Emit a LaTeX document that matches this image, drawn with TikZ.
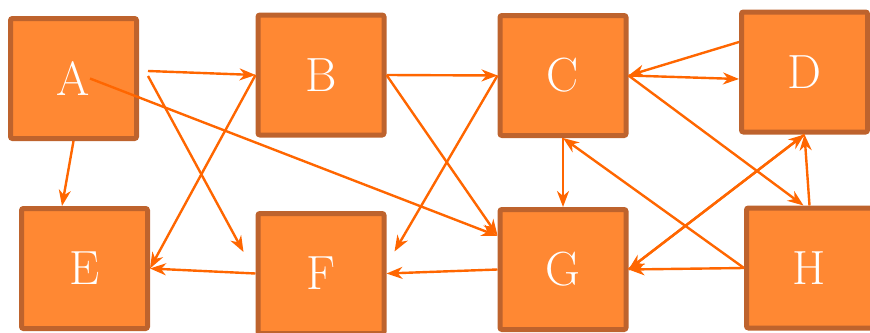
\documentclass[tikz,border=0pt]{standalone}
\usetikzlibrary{arrows.meta}
\definecolor{boxfill}{RGB}{255,136,51}
\definecolor{boxborder}{RGB}{190,99,45}
\definecolor{edgecol}{RGB}{255,102,0}
\begin{document}
\begin{tikzpicture}[x=1pt,y=-1pt,
  box/.style={draw=boxborder, fill=boxfill, line width=5pt, rounded corners=2pt,
    minimum width=126pt, minimum height=120pt, inner sep=0pt, text=white,
    font=\fontsize{48}{50}\selectfont},
  edge/.style={draw=edgecol, line width=2.4pt, -{Stealth[length=16pt,width=12pt,inset=5pt]}}]
\useasboundingbox (0,0) rectangle (870,332);
\node[box] (A) at (73.5,78.5) {A};
\node[box] (B) at (321,75) {B};
\node[box] (C) at (563,75.5) {C};
\node[box] (D) at (804.5,72) {D};
\node[box] (E) at (84.5,268.5) {E};
\node[box] (F) at (321,273.5) {F};
\node[box] (G) at (563,269.5) {G};
\node[box] (H) at (809.5,268) {H};
\draw[edge] ([shift={(9,-7.5)}]A.east) -- (B.west);
\draw[edge] ([shift={(9,-2.5)}]A.east) -- ([shift={(-12,-21.5)}]F.west);
\draw[edge] (A.south) -- ([shift={(-22.5,0)}]E.north);
\draw[edge] ([shift={(16.5,0)}]A.center) -- ([shift={(0,-33.5)}]G.west);
\draw[edge] (B.west) -- (E.east);
\draw[edge] (B.east) -- (C.west);
\draw[edge] (B.east) -- ([shift={(0,-34)}]G.west);
\draw[edge] (C.west) -- ([shift={(8,-22)}]F.east);
\draw[edge] (F.west) -- (E.east);
\draw[edge] (G.west) -- (F.east);
\draw[edge] (C.south) -- (G.north);
\draw[edge] (H.west) -- (C.south);
\draw[edge] (H.west) -- (G.east);
\draw[edge] ([shift={(0,-30)}]D.west) -- (C.east);
\draw[edge] (C.east) -- ([shift={(0,7)}]D.west);
\draw[edge] (C.east) -- ([shift={(-6,0)}]H.north);
\draw[edge] (H.north) -- (D.south);
\draw[edge] (G.east) -- (D.south);
\draw[edge] (D.south) -- (G.east);
\end{tikzpicture}
\end{document}
